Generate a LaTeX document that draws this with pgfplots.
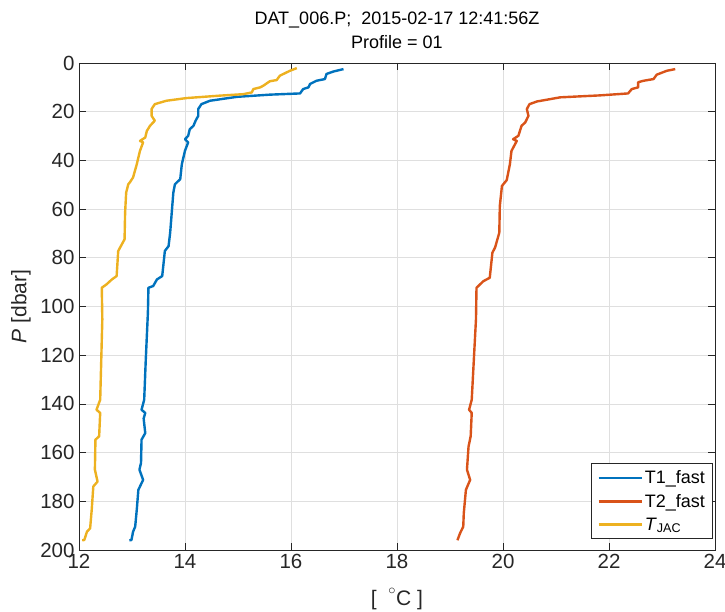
\documentclass[border=0pt]{standalone}
\usepackage{pgfplots}
\pgfplotsset{compat=1.18}
\usepackage{fontspec}
\setmainfont{Liberation Sans}

\definecolor{mblue}{RGB}{0,114,189}
\definecolor{mred}{RGB}{217,83,25}
\definecolor{myellow}{RGB}{237,177,32}
\definecolor{axgray}{RGB}{38,38,38}

\begin{document}
\begin{tikzpicture}
\begin{axis}[
    scale only axis,
    width=636pt, height=487pt,
    xmin=12, xmax=24,
    ymin=0, ymax=200,
    y dir=reverse,
    xtick={12,14,...,24},
    ytick={0,20,...,200},
    tick align=inside,
    tick pos=both,
    major tick length=7pt,
    axis line style={axgray, line width=0.8pt},
    every tick/.style={axgray, line width=0.8pt},
    grid=major,
    major grid style={gray!25, line width=0.8pt},
    /pgf/number format/assume math mode=true,
    ticklabel style={font=\fontsize{20.5}{23}\selectfont, text=axgray},
    xticklabel style={yshift=-1pt},
    yticklabel style={xshift=-1pt},
    title style={font=\fontsize{18}{24}\selectfont, align=center, yshift=5pt},
    title={DAT\_006.P;\ \ 2015-02-17 12:41:56Z\\Profile = 01},
    xlabel={[\ \ \raisebox{4pt}{$^{\circ}$}C ]},
    ylabel={\textit{P} [dbar]},
    label style={font=\fontsize{21}{23}\selectfont, text=axgray},
    xlabel style={at={(rel axis cs:0.5,0)}, anchor=center, yshift=-49pt},
    ylabel style={at={(rel axis cs:0,0.5)}, anchor=center, yshift=58pt},
    legend style={at={(rel axis cs:0.997,0.023)}, anchor=south east,
        font=\fontsize{18}{21}\selectfont, draw=axgray, line width=0.6pt,
        row sep=5pt, inner xsep=6pt, inner ysep=5pt, cells={anchor=west}},
    legend image code/.code={\draw[#1, line width=2.4pt] (0pt,0pt) -- (43pt,0pt);},
]

\addplot[mblue, line width=2.4pt, line join=round] coordinates {
(16.99,2.5)(16.80,3.5)(16.67,4.5)(16.64,6.6)(16.48,7.3)(16.36,8.6)(16.33,10)
(16.23,10.7)(16.17,12.5)(15.6,13)(14.98,13.9)(14.47,15.5)(14.31,16.9)(14.25,18.9)
(14.25,21.7)(14.2,23.7)(14.16,25.8)(14.09,27.2)(14.06,29.9)(14.0,31.3)(14.06,32.6)
(14.0,36)(13.94,41.6)(13.91,47.7)(13.81,49.8)(13.78,53.2)(13.72,69.7)(13.69,75.2)
(13.62,77.2)(13.57,87.5)(13.47,88.9)(13.40,91.6)(13.31,92.3)(13.30,102.6)
(13.26,121.8)(13.23,138.3)(13.18,142.4)(13.25,143.7)(13.22,146)(13.25,152)
(13.18,154.7)(13.17,164.3)(13.14,167)(13.21,171.2)(13.12,175.3)(13.09,183.5)
(13.06,190.4)(13.02,192.5)(12.99,195.9)(12.95,196)
};
\addlegendentry{T1\_fast}

\addplot[mred, line width=2.4pt, line join=round] coordinates {
(23.25,2.5)(23.09,3.2)(22.9,4.8)(22.84,6.6)(22.65,7.3)(22.55,7.9)(22.55,10)
(22.43,10.7)(22.36,12.5)(21.83,13.3)(21.08,14.1)(20.64,15.8)(20.50,16.9)
(20.45,18.9)(20.48,21.7)(20.42,24.4)(20.35,25.8)(20.29,29.9)(20.19,31.3)
(20.26,32)(20.16,36.1)(20.13,41.6)(20.07,48.1)(19.98,50.5)(19.94,58.7)
(19.93,69.7)(19.85,75.8)(19.80,77.9)(19.75,88.2)(19.63,89.6)(19.50,92.3)
(19.49,105.3)(19.45,121.8)(19.41,138.3)(19.36,142.4)(19.41,143.7)(19.39,153.3)
(19.35,157.5)(19.32,167)(19.38,171.2)(19.30,175.3)(19.26,184.9)(19.25,190.4)
(19.19,193.1)(19.14,196)
};
\addlegendentry{T2\_fast}

\addplot[myellow, line width=2.4pt, line join=round] coordinates {
(16.11,2.1)(15.98,3.2)(15.79,5.2)(15.73,7)(15.6,7.5)(15.48,9.3)(15.42,10)
(15.29,10.7)(15.26,12.1)(15.1,12.8)(14.66,13.4)(14.03,14.4)(13.65,15.5)
(13.43,16.9)(13.37,18.9)(13.37,21.7)(13.43,23.7)(13.34,25.8)(13.28,27.9)
(13.25,30.6)(13.15,32)(13.21,32.6)(13.15,36.1)(13.09,41.6)(13.02,47)(12.96,49)
(12.93,49.8)(12.89,53.2)(12.87,61.4)(12.86,72.4)(12.79,75.2)(12.74,77.2)
(12.71,87.5)(12.62,88.9)(12.52,90.9)(12.43,92.3)(12.44,105.3)(12.42,121.8)
(12.40,138.3)(12.33,142.4)(12.40,143.7)(12.38,153.3)(12.31,154.7)(12.30,167)
(12.35,171.9)(12.27,173.9)(12.24,183.5)(12.21,191.1)(12.15,192.5)(12.10,195.9)
(12.06,196)
};
\addlegendentry{\textit{T}\textsubscript{JAC}}

\end{axis}
\pgfresetboundingbox
\path (-79pt,-62pt) rectangle (646pt,550pt);
\end{tikzpicture}
\end{document}
